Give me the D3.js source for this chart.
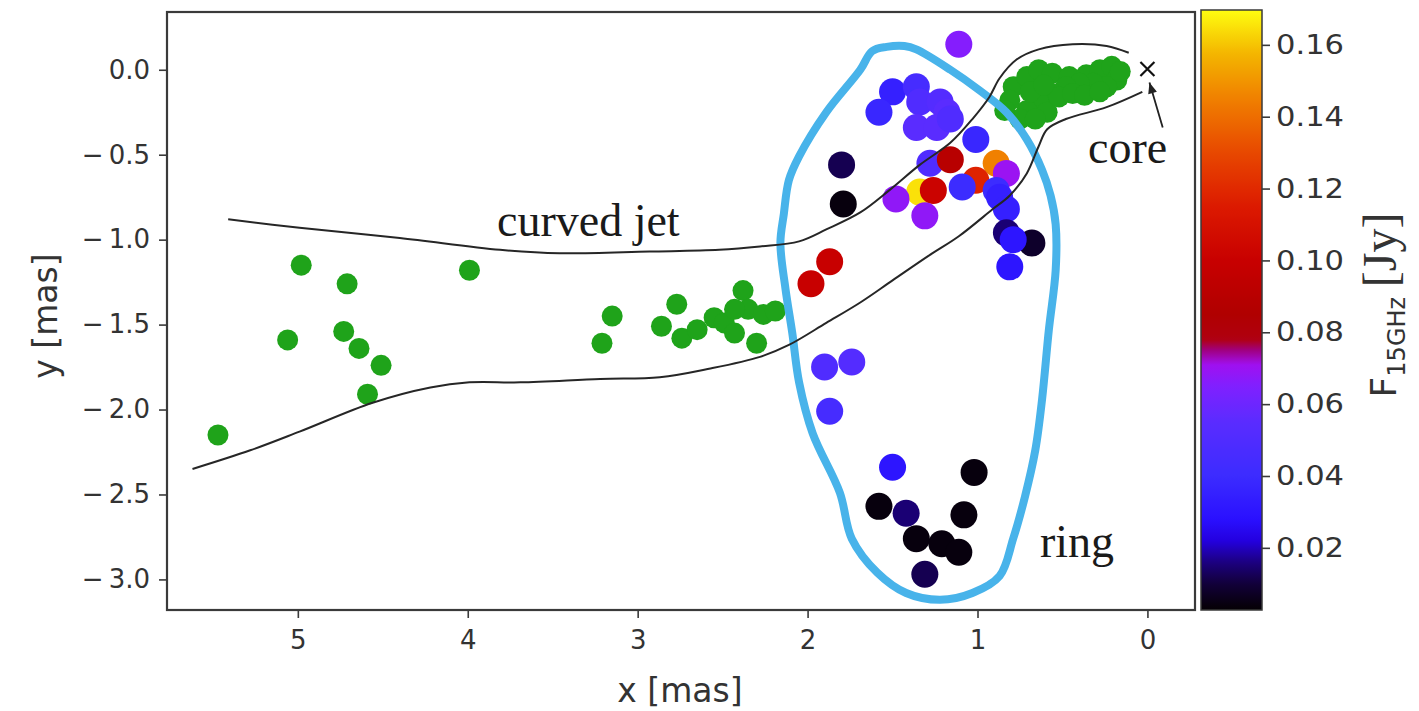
<!DOCTYPE html>
<html>
<head>
<meta charset="utf-8">
<script src="https://cdn.jsdelivr.net/npm/d3@7"></script>
<style>
  html, body { margin: 0; padding: 0; background: #fff; }
  svg { display: block; }
</style>
</head>
<body>
<svg id="chart" width="1419" height="711"></svg>
<script>
// ---- jet components (green, no flux colouring) ----
const jetX = [5.47, 5.06, 4.98, 4.71, 4.73, 4.64, 4.51, 4.59, 3.99,
  3.21, 3.15, 2.86, 2.77, 2.74, 2.65, 2.55, 2.49, 2.43, 2.38, 2.35, 2.30, 2.26, 2.19, 2.43,
  0.79, 0.71, 0.64, 0.56, 0.46, 0.36, 0.28, 0.21, 0.18, 0.24, 0.32, 0.40, 0.48, 0.56, 0.64, 0.71, 0.75, 0.59, 0.52, 0.44, 0.81,
  0.69, 0.61, 0.37, 0.28, 0.16, 0.84, 0.66];
const jetY = [-2.15, -1.59, -1.15, -1.26, -1.54, -1.64, -1.74, -1.91, -1.18,
  -1.61, -1.45, -1.51, -1.38, -1.58, -1.53, -1.46, -1.49, -1.55, -1.30, -1.41, -1.61, -1.44, -1.42, -1.41,
  -0.10, -0.04, 0.00, -0.02, -0.04, -0.03, 0.00, 0.02, -0.06, -0.10, -0.08, -0.08, -0.10, -0.14, -0.19, -0.24, -0.29, -0.25, -0.16, -0.14, -0.18,
  -0.13, -0.09, -0.15, -0.13, -0.01, -0.24, -0.29];

// ---- ring components, coloured by 15 GHz flux density [Jy] ----
const ringX = [1.11, 1.50, 1.58, 1.36, 1.34, 1.22, 1.18, 1.36, 1.24, 1.16, 1.01,
  1.28, 1.16, 0.89, 0.83, 1.01, 1.09, 1.34, 1.26, 1.48, 1.31, 0.89, 0.87, 0.83, 0.83, 0.68, 0.79, 0.81,
  1.80, 1.79, 1.87, 1.98, 1.90, 1.74, 1.87,
  1.50, 1.58, 1.42, 1.36, 1.21, 1.11, 1.31, 1.02, 1.08];
const ringY = [0.15, -0.13, -0.25, -0.10, -0.19, -0.19, -0.25, -0.34, -0.34, -0.29, -0.41,
  -0.55, -0.53, -0.55, -0.61, -0.65, -0.69, -0.72, -0.71, -0.76, -0.86, -0.71, -0.75, -0.82, -0.96, -1.02, -1.00, -1.16,
  -0.56, -0.79, -1.13, -1.26, -1.75, -1.72, -2.01,
  -2.34, -2.57, -2.61, -2.76, -2.79, -2.84, -2.97, -2.37, -2.62];
const ringFlux = [0.066, 0.035, 0.038, 0.045, 0.050, 0.052, 0.055, 0.055, 0.055, 0.050, 0.038,
  0.050, 0.090, 0.145, 0.070, 0.118, 0.040, 0.165, 0.102, 0.068, 0.068, 0.040, 0.035, 0.035, 0.015, 0.008, 0.030, 0.030,
  0.012, 0.004, 0.100, 0.100, 0.050, 0.052, 0.045,
  0.030, 0.004, 0.015, 0.004, 0.004, 0.004, 0.012, 0.004, 0.004];

// ---- outlines: jet edges and the ring contour (mas) ----
const jetUpperX = [5.41, 4.99, 4.40, 3.81, 3.46, 2.93, 2.52, 2.28, 2.05, 1.89, 1.69, 1.52, 1.34, 1.16, 1.03, 0.93, 0.87, 0.77, 0.64, 0.44, 0.24, 0.11];
const jetUpperY = [-0.88, -0.93, -0.99, -1.06, -1.08, -1.07, -1.06, -1.04, -1.01, -0.94, -0.84, -0.71, -0.56, -0.43, -0.29, -0.16, -0.05, 0.06, 0.12, 0.15, 0.14, 0.10];
const jetLowerX = [5.62, 5.28, 4.99, 4.56, 4.22, 3.99, 3.69, 3.22, 2.87, 2.58, 2.28, 2.11, 1.89, 1.69, 1.50, 1.28, 1.11, 0.91, 0.81, 0.71, 0.64, 0.59, 0.48, 0.24, 0.03];
const jetLowerY = [-2.35, -2.24, -2.13, -1.96, -1.87, -1.84, -1.84, -1.82, -1.81, -1.76, -1.69, -1.62, -1.49, -1.37, -1.24, -1.09, -0.98, -0.82, -0.74, -0.61, -0.45, -0.35, -0.29, -0.22, -0.13];
const ringLineX = [1.535, 1.43, 1.36, 1.16, 0.99, 0.83, 0.71, 0.62, 0.57, 0.54, 0.54, 0.58, 0.62, 0.66, 0.72, 0.79, 0.87, 1.03, 1.22, 1.42, 1.59, 1.74, 1.81, 1.97, 2.05, 2.09, 2.13, 2.16, 2.14, 2.11, 2.05, 1.89, 1.69, 1.62];
const ringLineY = [0.135, 0.14, 0.12, 0.00, -0.12, -0.25, -0.41, -0.59, -0.74, -0.91, -1.18, -1.53, -1.94, -2.24, -2.51, -2.76, -2.98, -3.08, -3.12, -3.08, -2.96, -2.76, -2.49, -2.14, -1.84, -1.55, -1.29, -1.02, -0.85, -0.65, -0.51, -0.25, 0.00, 0.11];

// ---- ticks ----
const xTicks = [5, 4, 3, 2, 1, 0];
const yTicks = [0, -0.5, -1, -1.5, -2, -2.5, -3];
const cbTicks = [0.02, 0.04, 0.06, 0.08, 0.10, 0.12, 0.14, 0.16];

// colour map: black -> blue -> violet, then dark red -> red -> orange -> yellow
const cmapStops = [0.003, 0.010, 0.016, 0.022, 0.028, 0.040, 0.055, 0.065, 0.071, 0.075, 0.078, 0.085, 0.100, 0.115, 0.130, 0.145, 0.158, 0.170];
const cmapColors = ["#050005", "#12003a", "#1c0080", "#2400e0", "#2a10ff", "#3c2cff", "#5a2cff", "#8020ff", "#a010f0", "#a00080", "#b00010", "#b00000", "#c80000", "#dc1a00", "#e84800", "#f08000", "#f4b800", "#ffff10"];

const svg = d3.select("#chart");
const plot = { left: 167, right: 1195, top: 12, bottom: 610 };
const cb = { left: 1201, right: 1262, top: 10, bottom: 610 };

const x = d3.scaleLinear().domain([5.77, -0.28]).range([plot.left, plot.right]);
const y = d3.scaleLinear().domain([0.34, -3.18]).range([plot.top, plot.bottom]);
const color = d3.scaleLinear().domain(cmapStops).range(cmapColors).interpolate(d3.interpolateRgb).clamp(true);
const cbY = d3.scaleLinear().domain([0.0027, 0.1697]).range([cb.bottom, cb.top]);

const sans = "DejaVu Sans, sans-serif";
const serif = "Liberation Serif, Times New Roman, serif";
const axisGrey = "#3a3a3a";
const textGrey = "#333";

svg.append("defs").append("clipPath").attr("id", "plotClip")
  .append("rect").attr("x", plot.left).attr("y", plot.top)
  .attr("width", plot.right - plot.left).attr("height", plot.bottom - plot.top);

const g = svg.append("g").attr("clip-path", "url(#plotClip)");

// jet components
g.append("g").selectAll("circle").data(d3.range(jetX.length)).join("circle")
  .attr("cx", i => x(jetX[i])).attr("cy", i => y(jetY[i])).attr("r", 10.5)
  .attr("fill", "#1fa31a");

// ring components
g.append("g").selectAll("circle").data(d3.range(ringX.length)).join("circle")
  .attr("cx", i => x(ringX[i])).attr("cy", i => y(ringY[i])).attr("r", 13.5)
  .attr("fill", i => color(ringFlux[i]));

// ring contour
const ringLine = d3.line().x(d => x(d[0])).y(d => y(d[1])).curve(d3.curveCatmullRomClosed.alpha(0.5));
g.append("path").datum(d3.zip(ringLineX, ringLineY)).attr("d", ringLine)
  .attr("fill", "none").attr("stroke", "#48b3ea").attr("stroke-width", 8).attr("stroke-linejoin", "round");

// jet edges
const edge = d3.line().x(d => x(d[0])).y(d => y(d[1])).curve(d3.curveCatmullRom.alpha(0.5));
[[jetUpperX, jetUpperY], [jetLowerX, jetLowerY]].forEach(([xs, ys]) => {
  g.append("path").datum(d3.zip(xs, ys)).attr("d", edge)
    .attr("fill", "none").attr("stroke", "#262626").attr("stroke-width", 2);
});

// core marker and arrow
const cx0 = x(0), cy0 = y(0.005);
g.append("path").attr("d", `M${cx0 - 7},${cy0 - 7}L${cx0 + 7},${cy0 + 7}M${cx0 - 7},${cy0 + 7}L${cx0 + 7},${cy0 - 7}`)
  .attr("stroke", "#111").attr("stroke-width", 2.2);
const ax1 = x(-0.09), ay1 = y(-0.34), ax2 = x(-0.012), ay2 = y(-0.075);
g.append("line").attr("x1", ax1).attr("y1", ay1).attr("x2", ax2).attr("y2", ay2)
  .attr("stroke", "#222").attr("stroke-width", 1.8);
{
  const ang = Math.atan2(ay2 - ay1, ax2 - ax1);
  const L = 11, W = 4.5;
  const bx = ax2 - L * Math.cos(ang), by = ay2 - L * Math.sin(ang);
  const px = -Math.sin(ang) * W, py = Math.cos(ang) * W;
  g.append("path").attr("d", `M${ax2},${ay2}L${bx + px},${by + py}L${bx - px},${by - py}Z`).attr("fill", "#222");
}

// annotations
svg.append("text").attr("x", 497).attr("y", 236).attr("font-family", serif).attr("font-size", 46)
  .attr("fill", "#1a1a1a").text("curved jet");
svg.append("text").attr("x", 1088).attr("y", 163).attr("font-family", serif).attr("font-size", 46)
  .attr("fill", "#1a1a1a").text("core");
svg.append("text").attr("x", 1040).attr("y", 557).attr("font-family", serif).attr("font-size", 46)
  .attr("fill", "#1a1a1a").text("ring");

// frame
svg.append("rect").attr("x", plot.left).attr("y", plot.top)
  .attr("width", plot.right - plot.left).attr("height", plot.bottom - plot.top)
  .attr("fill", "none").attr("stroke", axisGrey).attr("stroke-width", 2.2);

// axes
const fmtY = d => (d < 0 ? "\u2212\u2009" : "") + Math.abs(d).toFixed(1);
const xAxis = d3.axisBottom(x).tickValues(xTicks).tickSize(8).tickPadding(13).tickFormat(d3.format("d"));
const yAxis = d3.axisLeft(y).tickValues(yTicks).tickSize(8).tickPadding(9).tickFormat(fmtY);
const gx = svg.append("g").attr("transform", `translate(0,${plot.bottom})`).call(xAxis);
const gy = svg.append("g").attr("transform", `translate(${plot.left},0)`).call(yAxis);
[gx, gy].forEach(a => {
  a.select(".domain").remove();
  a.selectAll(".tick line").attr("stroke", axisGrey).attr("stroke-width", 1.6);
  a.selectAll(".tick text").attr("fill", textGrey).attr("font-family", sans).attr("font-size", 26);
});

svg.append("text").attr("x", 680).attr("y", 702)
  .attr("text-anchor", "middle").attr("font-family", sans).attr("font-size", 33).attr("fill", textGrey)
  .text("x [mas]");
svg.append("text").attr("transform", `translate(57,316) rotate(-90)`)
  .attr("text-anchor", "middle").attr("font-family", sans).attr("font-size", 33).attr("fill", textGrey)
  .text("y [mas]");

// colour bar
const grad = svg.select("defs").append("linearGradient").attr("id", "cbGrad")
  .attr("x1", 0).attr("y1", 1).attr("x2", 0).attr("y2", 0);
const d0 = cbY.domain()[0], d1 = cbY.domain()[1];
d3.range(0, 1.0001, 1 / 120).forEach(t => {
  grad.append("stop").attr("offset", t).attr("stop-color", color(d0 + t * (d1 - d0)));
});
svg.append("rect").attr("x", cb.left).attr("y", cb.top).attr("width", cb.right - cb.left)
  .attr("height", cb.bottom - cb.top).attr("fill", "url(#cbGrad)")
  .attr("stroke", axisGrey).attr("stroke-width", 1.5);
const cAxis = d3.axisRight(cbY).tickValues(cbTicks).tickSize(8).tickPadding(6).tickFormat(d3.format(".2f"));
const gc = svg.append("g").attr("transform", `translate(${cb.right},0)`).call(cAxis);
gc.select(".domain").remove();
gc.selectAll(".tick line").attr("stroke", axisGrey).attr("stroke-width", 1.6);
gc.selectAll(".tick text").attr("fill", textGrey).attr("font-family", sans).attr("font-size", 27)
  .attr("textLength", 68).attr("lengthAdjust", "spacingAndGlyphs");

const cl = svg.append("text").attr("transform", `translate(1396,305) rotate(-90)`)
  .attr("text-anchor", "middle").attr("fill", textGrey);
cl.append("tspan").attr("font-family", sans).attr("font-size", 36).text("F");
cl.append("tspan").attr("font-family", sans).attr("font-size", 24).attr("dy", 9).text("15GHz");
cl.append("tspan").attr("font-family", serif).attr("font-size", 48).attr("dy", -9).text("\u2009[Jy]");
</script>
</body>
</html>
